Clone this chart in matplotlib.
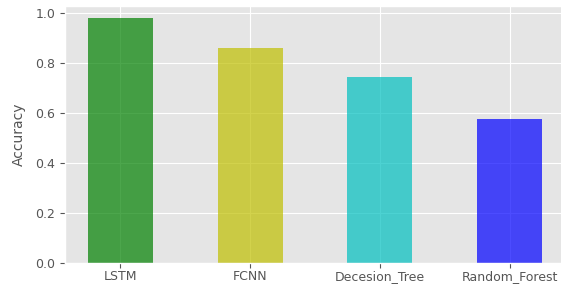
import matplotlib
matplotlib.use("Agg")
import matplotlib.pyplot as plt

models = ["LSTM", "FCNN", "Decesion_Tree", "Random_Forest"]
accuracy = [0.98, 0.86, 0.745, 0.578]
colors = ["g", "y", "c", "b"]

plt.style.use("ggplot")
fig = plt.figure(figsize=(5.61, 2.85), dpi=100)
ax = fig.add_axes([65/561, 22/285, 500/561, 257/285])
ax.bar(range(len(models)), accuracy, width=0.5, color=colors, alpha=0.7)
ax.set_xticks(range(len(models)))
ax.set_xticklabels(models, fontsize=9, color="#555555")
ax.tick_params(axis="x", pad=1.5)
ax.tick_params(axis="y", labelsize=9, labelcolor="#555555")
ax.set_xlim(-0.425, 3.425)
ax.set_ylim(0, 1.029)
ax.set_yticks([0.0, 0.2, 0.4, 0.6, 0.8, 1.0])
ax.set_ylabel("Accuracy", fontsize=10, color="#555555", labelpad=7)
fig.savefig("out.png", dpi=100)
